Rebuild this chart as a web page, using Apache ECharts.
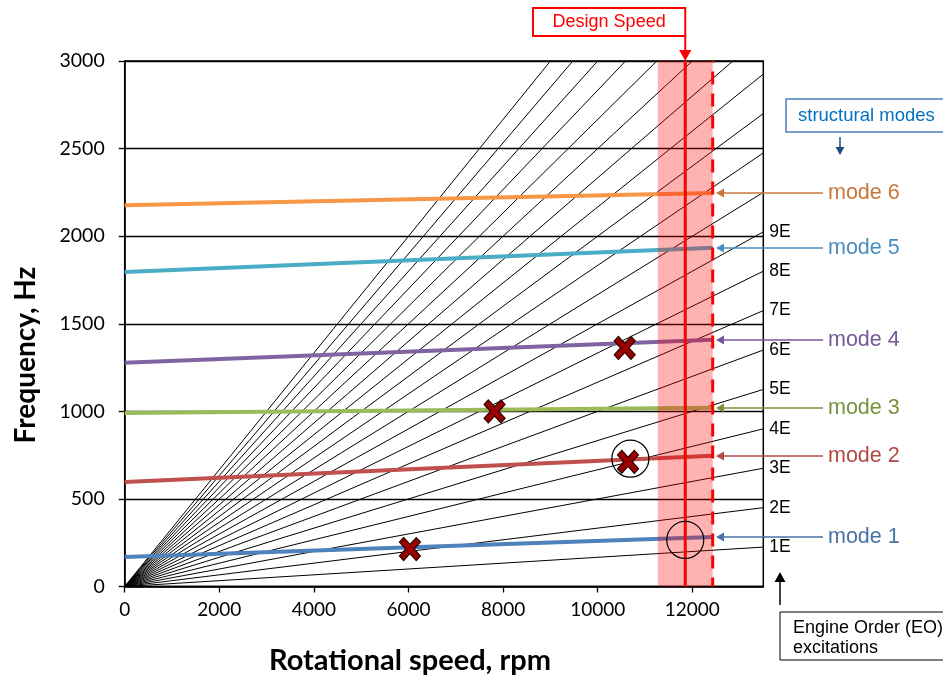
<!DOCTYPE html>
<html>
<head>
<meta charset="utf-8">
<script src="https://cdn.jsdelivr.net/npm/echarts@6/dist/echarts.min.js"></script>
<style>
html,body{margin:0;padding:0;background:#fff;}
#chart{width:943px;height:679px;}
</style>
</head>
<body>
<div id="chart"></div>
<script>
// ---- data ----
const rpmMax = 13500;
const engineOrders = [1,2,3,4,5,6,7,8,9,10,11,12,13,14,15,16,17,18,19,20];
const labeledOrders = [1,2,3,4,5,6,7,8,9];
const modeNames = ['mode 1','mode 2','mode 3','mode 4','mode 5','mode 6'];
const modeStartHz = [169, 597, 990, 1277, 1796, 2177];
const modeEndHz = [283, 746, 1020, 1409, 1934, 2246];
const modeEndRpm = 12430;
const designSpeed = 11850;
const bandRange = [11270, 12430];
const crossings = [[6030, 214], [7820, 1000], [10570, 1362], [10640, 712]];
const circles = [[10690, 730], [11850, 266]];
const xTicks = [0, 2000, 4000, 6000, 8000, 10000, 12000];
const yTicks = [0, 500, 1000, 1500, 2000, 2500, 3000];

const modeColors = ['#4F81BD', '#C0504D', '#9BBB59', '#8064A2', '#4BACC6', '#F79646'];
const modeTextColors = ['#4A72A6', '#B04A45', '#77933C', '#75599A', '#4A8EC0', '#C8773C'];

const chart = echarts.init(document.getElementById('chart'), null, {renderer: 'canvas'});

const series = [];
engineOrders.forEach(n => {
  series.push({
    type: 'line',
    name: n + 'E',
    data: [[0, 0], [rpmMax, n * rpmMax / 60]],
    symbol: 'none',
    clip: true,
    silent: true,
    z: 2,
    lineStyle: {color: '#000', width: 1},
    endLabel: {
      show: labeledOrders.indexOf(n) >= 0,
      formatter: n + 'E',
      color: '#000',
      fontFamily: 'Liberation Sans',
      fontSize: 17.5,
      distance: 6
    }
  });
});
modeNames.forEach((m, i) => {
  series.push({
    type: 'line',
    name: m,
    data: [[0, modeStartHz[i]], [modeEndRpm, modeEndHz[i]]],
    symbol: 'none',
    silent: true,
    z: 3,
    lineStyle: {color: modeColors[i], width: 4}
  });
});
// design speed band (semi-transparent, on top of the lines)
series.push({
  type: 'custom',
  silent: true,
  z: 4,
  data: [bandRange],
  renderItem: function (params, api) {
    const p0 = api.coord([api.value(0), 3000]);
    const p1 = api.coord([api.value(1), 0]);
    return {
      type: 'rect',
      shape: {x: p0[0], y: p0[1], width: p1[0] - p0[0], height: p1[1] - p0[1]},
      style: {fill: 'rgba(255,0,0,0.3)'}
    };
  },
  encode: {x: [0, 1]}
});
// design speed (solid) and upper speed limit (dashed)
series.push({
  type: 'line', silent: true, z: 5, symbol: 'none',
  data: [[designSpeed, 0], [designSpeed, 3000]],
  lineStyle: {color: '#FF0000', width: 3, type: 'solid'}
});
series.push({
  type: 'line', silent: true, z: 5, symbol: 'none',
  data: [[bandRange[1], 0], [bandRange[1], 3000]],
  lineStyle: {color: '#FF0000', width: 3, type: [13, 9], dashOffset: 4}
});
series.push({
  type: 'scatter',
  data: crossings,
  z: 7,
  silent: true,
  symbol: 'path://M2,0 L5,3 L8,0 L10,2 L7,5 L10,8 L8,10 L5,7 L2,10 L0,8 L3,5 L0,2 Z',
  symbolSize: [21, 23],
  itemStyle: {color: '#990000', borderColor: '#2a0000', borderWidth: 1.2, opacity: 1}
});
series.push({
  type: 'scatter',
  data: circles,
  z: 7,
  silent: true,
  symbol: 'circle',
  symbolSize: 37,
  itemStyle: {color: 'rgba(0,0,0,0)', borderColor: '#000', borderWidth: 1.2, opacity: 1}
});

chart.setOption({
  animation: false,
  grid: {left: 124.7, right: 179.7, top: 61, bottom: 92.5, show: true, borderColor: '#000', borderWidth: 1.5, containLabel: false},
  xAxis: {
    type: 'value', min: 0, max: rpmMax, interval: 2000,
    axisLine: {show: true, lineStyle: {color: '#000', width: 1.5}},
    axisTick: {show: true, length: 6, lineStyle: {color: '#000', width: 1.3}},
    axisLabel: {
      color: '#000', fontFamily: 'Lato', fontSize: 19, margin: 14,
      showMaxLabel: false,
      formatter: v => xTicks.indexOf(v) >= 0 ? String(v) : ''
    },
    splitLine: {show: false}
  },
  yAxis: {
    type: 'value', min: 0, max: 3000, interval: 500,
    axisLine: {show: true, lineStyle: {color: '#000', width: 1.5}},
    axisTick: {show: true, length: 6, lineStyle: {color: '#000', width: 1.3}},
    axisLabel: {
      color: '#000', fontFamily: 'Lato', fontSize: 19.5, margin: 20,
      formatter: v => yTicks.indexOf(v) >= 0 ? String(v) : ''
    },
    splitLine: {show: true, lineStyle: {color: '#000', width: 1.3}}
  },
  series: series
});

function arrowHead(x, y, dir, size, color) {
  let pts;
  const s = size, w = size * 0.55;
  if (dir === 'left') pts = [[x, y], [x + s, y - w], [x + s, y + w]];
  else if (dir === 'up') pts = [[x, y], [x - w, y + s], [x + w, y + s]];
  else pts = [[x, y], [x - w, y - s], [x + w, y - s]];
  return {type: 'polygon', shape: {points: pts}, style: {fill: color}, z: 100};
}

const graphics = [];
// axis titles
graphics.push({
  type: 'text', x: 410, y: 661, z: 100,
  style: {text: 'Rotational speed, rpm', font: 'bold 29px Lato', fill: '#000', align: 'center', verticalAlign: 'middle'}
});
graphics.push({
  type: 'text', x: 26, y: 355, rotation: Math.PI / 2, z: 100,
  style: {text: 'Frequency, Hz', font: 'bold 28px Lato', fill: '#000', align: 'center', verticalAlign: 'middle'}
});
// mode annotations
modeNames.forEach((m, i) => {
  const p = chart.convertToPixel({gridIndex: 0}, [modeEndRpm, modeEndHz[i]]);
  const y = Math.round(p[1]);
  graphics.push({type: 'line', shape: {x1: 722, y1: y, x2: 823, y2: y}, style: {stroke: modeTextColors[i], lineWidth: 1.5}, z: 100});
  graphics.push(arrowHead(716, y, 'left', 8, modeTextColors[i]));
  graphics.push({type: 'text', x: 828, y: y, z: 100, style: {text: m, font: '21.5px "Liberation Sans"', fill: modeTextColors[i], verticalAlign: 'middle'}});
});
// design speed box
const ds = chart.convertToPixel({gridIndex: 0}, [designSpeed, 3000]);
graphics.push({type: 'rect', shape: {x: 533, y: 8, width: ds[0] - 533, height: 28}, style: {fill: '#fff', stroke: '#FF0000', lineWidth: 2}, z: 100});
graphics.push({type: 'text', x: (533 + ds[0]) / 2, y: 22, z: 101, style: {text: 'Design Speed', font: '18px "Liberation Sans"', fill: '#FF0000', align: 'center', verticalAlign: 'middle'}});
graphics.push({type: 'line', shape: {x1: ds[0], y1: 36, x2: ds[0], y2: 50}, style: {stroke: '#FF0000', lineWidth: 2}, z: 100});
graphics.push(arrowHead(ds[0], 61, 'down', 11, '#FF0000'));
// structural modes box
graphics.push({type: 'rect', shape: {x: 786, y: 99, width: 170, height: 33}, style: {fill: '#fff', stroke: '#4A7EBB', lineWidth: 1.5}, z: 100});
graphics.push({type: 'text', x: 798, y: 116, z: 101, style: {text: 'structural modes', font: '18.5px "Liberation Sans"', fill: '#0070C0', verticalAlign: 'middle'}});
graphics.push({type: 'line', shape: {x1: 840, y1: 137, x2: 840, y2: 148}, style: {stroke: '#1F497D', lineWidth: 1.5}, z: 100});
graphics.push(arrowHead(840, 155, 'down', 8, '#1F497D'));
// engine order box
graphics.push({type: 'rect', shape: {x: 780, y: 612, width: 175, height: 48}, style: {fill: '#fff', stroke: '#000', lineWidth: 1}, z: 100});
graphics.push({type: 'text', x: 793, y: 628, z: 101, style: {text: 'Engine Order (EO)', font: '18px "Liberation Sans"', fill: '#000', verticalAlign: 'middle'}});
graphics.push({type: 'text', x: 793, y: 648, z: 101, style: {text: 'excitations', font: '18px "Liberation Sans"', fill: '#000', verticalAlign: 'middle'}});
graphics.push({type: 'line', shape: {x1: 780, y1: 580, x2: 780, y2: 605}, style: {stroke: '#000', lineWidth: 1.5}, z: 100});
graphics.push(arrowHead(780, 572, 'up', 10, '#000'));

chart.setOption({graphic: graphics});
</script>
</body>
</html>
